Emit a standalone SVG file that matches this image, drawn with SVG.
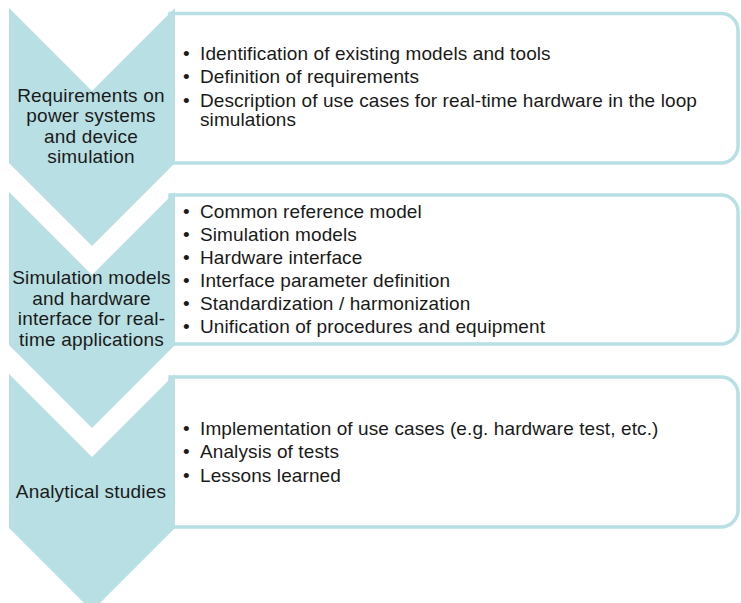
<svg xmlns="http://www.w3.org/2000/svg" width="741" height="603" viewBox="0 0 741 603">
<style>
.box{fill:#ffffff;stroke:#b8dfe3;stroke-width:3.5}
.chev{fill:#b8dfe3}
.lbl{font-family:"Liberation Sans",Arial,sans-serif;font-size:19px;fill:#1a1a1a;text-anchor:middle;letter-spacing:0.2px}
.item{font-family:"Liberation Sans",Arial,sans-serif;font-size:19px;fill:#1a1a1a;letter-spacing:0.1px}
</style>
<rect width="741" height="603" fill="#ffffff"/>
<g id="step1">
<path class="box" d="M170 13.5 H721 A17 17 0 0 1 738 30.5 V146 A17 17 0 0 1 721 163 H170 Z"/>
<path class="chev" d="M9 8 L92 91 L175 8 L175 163 L92 246 L9 163 Z"/>
<text class="lbl"><tspan x="91" y="101.5">Requirements on</tspan><tspan x="91" y="122">power systems</tspan><tspan x="91" y="142.5">and device</tspan><tspan x="91" y="163">simulation</tspan></text>
<text class="item"><tspan x="183" y="60">•</tspan><tspan x="200" y="60">Identification of existing models and tools</tspan><tspan x="183" y="83.3">•</tspan><tspan x="200" y="83.3">Definition of requirements</tspan><tspan x="183" y="106.5">•</tspan><tspan x="200" y="106.5">Description of use cases for real-time hardware in the loop</tspan><tspan x="200" y="126">simulations</tspan></text>
</g>
<g id="step2">
<path class="box" d="M170 195 H721 A17 17 0 0 1 738 212 V327 A17 17 0 0 1 721 344 H170 Z"/>
<path class="chev" d="M9 192 L92 275 L175 192 L175 345 L92 428 L9 345 Z"/>
<text class="lbl"><tspan x="91.5" y="284">Simulation models</tspan><tspan x="91.5" y="304.5">and hardware</tspan><tspan x="91.5" y="325">interface for real-</tspan><tspan x="91.5" y="345.5">time applications</tspan></text>
<text class="item"><tspan x="183" y="217.7">•</tspan><tspan x="200" y="217.7">Common reference model</tspan><tspan x="183" y="240.8">•</tspan><tspan x="200" y="240.8">Simulation models</tspan><tspan x="183" y="263.9">•</tspan><tspan x="200" y="263.9">Hardware interface</tspan><tspan x="183" y="287">•</tspan><tspan x="200" y="287">Interface parameter definition</tspan><tspan x="183" y="310.1">•</tspan><tspan x="200" y="310.1">Standardization / harmonization</tspan><tspan x="183" y="333.2">•</tspan><tspan x="200" y="333.2">Unification of procedures and equipment</tspan></text>
</g>
<g id="step3">
<path class="box" d="M170 377 H721 A17 17 0 0 1 738 394 V510 A17 17 0 0 1 721 527 H170 Z"/>
<path class="chev" d="M9 374 L92 457 L175 374 L175 528 L92 611 L9 528 Z"/>
<text class="lbl"><tspan x="91" y="498">Analytical studies</tspan></text>
<text class="item"><tspan x="183" y="435">•</tspan><tspan x="200" y="435">Implementation of use cases (e.g. hardware test, etc.)</tspan><tspan x="183" y="458.3">•</tspan><tspan x="200" y="458.3">Analysis of tests</tspan><tspan x="183" y="481.7">•</tspan><tspan x="200" y="481.7">Lessons learned</tspan></text>
</g>
</svg>
